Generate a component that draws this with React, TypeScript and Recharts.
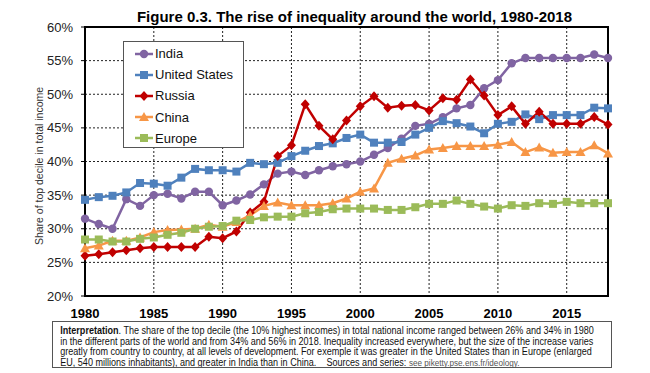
import { CartesianGrid, Legend, Line, LineChart, ReferenceArea, XAxis, YAxis } from "recharts";

const years = [
	1980, 1981, 1982, 1983, 1984, 1985, 1986, 1987, 1988, 1989,
	1990, 1991, 1992, 1993, 1994, 1995, 1996, 1997, 1998, 1999,
	2000, 2001, 2002, 2003, 2004, 2005, 2006, 2007, 2008, 2009,
	2010, 2011, 2012, 2013, 2014, 2015, 2016, 2017, 2018,
];

const india = [
	31.5, 30.7, 30.0, 34.4, 33.4, 35.0, 35.2, 34.5, 35.5, 35.5,
	33.5, 34.2, 35.1, 36.6, 38.2, 38.5, 38.0, 38.7, 39.3, 39.6,
	40.0, 41.0, 42.0, 43.4, 45.3, 45.6, 46.6, 47.9, 48.4, 50.9,
	52.1, 54.6, 55.4, 55.4, 55.4, 55.4, 55.4, 55.9, 55.4,
];

const unitedStates = [
	34.3, 34.7, 34.9, 35.4, 36.8, 36.7, 36.4, 37.6, 38.9, 38.7,
	38.7, 38.5, 39.8, 39.6, 39.8, 40.8, 41.6, 42.3, 42.7, 43.5,
	44.0, 42.8, 42.8, 42.9, 44.0, 45.0, 46.0, 45.7, 45.2, 44.2,
	45.6, 45.9, 47.0, 46.3, 46.9, 46.9, 46.9, 48.0, 47.9,
];

const russia = [
	26.0, 26.2, 26.5, 26.8, 27.1, 27.3, 27.3, 27.3, 27.3, 28.8,
	28.6, 29.6, 32.4, 34.0, 40.8, 42.4, 48.5, 45.3, 43.3, 46.1,
	48.2, 49.7, 48.0, 48.3, 48.4, 47.6, 49.4, 49.2, 52.2, 49.8,
	46.9, 48.2, 45.6, 47.4, 45.6, 45.6, 45.6, 46.6, 45.5,
];

const china = [
	27.1, 27.5, 28.2, 28.2, 28.7, 29.5, 29.8, 29.9, 30.0, 30.6,
	30.3, 31.0, 32.0, 33.4, 33.9, 33.5, 33.5, 33.5, 33.8, 34.5,
	35.5, 36.0, 39.8, 40.4, 40.9, 41.8, 42.0, 42.3, 42.3, 42.3,
	42.5, 42.9, 41.4, 42.1, 41.3, 41.4, 41.4, 42.4, 41.2,
];

const europe = [
	28.4, 28.4, 28.1, 28.1, 28.5, 28.7, 29.1, 29.4, 30.0, 30.3,
	30.4, 31.2, 31.3, 31.7, 31.8, 31.8, 32.3, 32.5, 32.9, 33.0,
	33.0, 33.0, 32.8, 32.8, 33.2, 33.7, 33.7, 34.2, 33.7, 33.3,
	33.0, 33.5, 33.4, 33.8, 33.7, 34.0, 33.8, 33.8, 33.8,
];

const xTicks = [1980, 1985, 1990, 1995, 2000, 2005, 2010, 2015];
const yTicks = [20, 25, 30, 35, 40, 45, 50, 55, 60];

const data = years.map((year, i) => ({
	year,
	india: india[i],
	us: unitedStates[i],
	russia: russia[i],
	china: china[i],
	europe: europe[i],
}));

type Shape = "circle" | "square" | "diamond" | "triangle";

const series: { key: string; name: string; color: string; shape: Shape }[] = [
	{ key: "india", name: "India", color: "#8064A2", shape: "circle" },
	{ key: "us", name: "United States", color: "#4F81BD", shape: "square" },
	{ key: "russia", name: "Russia", color: "#C00000", shape: "diamond" },
	{ key: "china", name: "China", color: "#F79646", shape: "triangle" },
	{ key: "europe", name: "Europe", color: "#9BBB59", shape: "square" },
];

const sans = '"Liberation Sans", Arial, sans-serif';

function Marker({ cx, cy, shape, color }: { cx: number; cy: number; shape: Shape; color: string }) {
	if (shape === "circle") return <circle cx={cx} cy={cy} r={4.2} fill={color} />;
	if (shape === "square") return <rect x={cx - 4} y={cy - 4} width={8} height={8} fill={color} />;
	if (shape === "diamond")
		return <polygon points={`${cx},${cy - 5} ${cx + 4.5},${cy} ${cx},${cy + 5} ${cx - 4.5},${cy}`} fill={color} />;
	return <polygon points={`${cx},${cy - 5} ${cx + 5},${cy + 4} ${cx - 5},${cy + 4}`} fill={color} />;
}

function makeDot(shape: Shape, color: string) {
	return (props: any) => {
		const { cx, cy, index } = props;
		if (cx == null || cy == null) return <g key={index} />;
		return (
			<g key={index}>
				<Marker cx={cx} cy={cy} shape={shape} color={color} />
			</g>
		);
	};
}

function LegendBox() {
	return (
		<div
			style={{
				border: "1px solid #555",
				background: "#fff",
				width: 121,
				height: 107,
				boxSizing: "border-box",
				padding: "1px 0 0 10px",
				fontFamily: sans,
				fontSize: 13,
				color: "#111",
				textAlign: "left",
			}}
		>
			{series.map((s) => (
				<div key={s.key} style={{ display: "flex", alignItems: "center", height: 21.2 }}>
					<svg width={20} height={12} style={{ marginRight: 1 }}>
						<line x1={1} y1={6} x2={19} y2={6} stroke={s.color} strokeWidth={2.5} />
						<Marker cx={10} cy={6} shape={s.shape} color={s.color} />
					</svg>
					<span>{s.name}</span>
				</div>
			))}
		</div>
	);
}

export default function App() {
	return (
		<div style={{ position: "fixed", left: 0, top: 0, width: 650, height: 373, background: "#fff", overflow: "hidden" }}>
			<div
				style={{
					position: "absolute",
					left: 0,
					width: 709,
					top: 8,
					textAlign: "center",
					fontFamily: sans,
					fontWeight: "bold",
					fontSize: 15,
					lineHeight: "18px",
					color: "#000",
				}}
			>
				Figure 0.3. The rise of inequality around the world, 1980-2018
			</div>
			<div
				style={{
					position: "absolute",
					left: 39,
					top: 166,
					transform: "translate(-50%, -50%) rotate(-90deg)",
					whiteSpace: "nowrap",
					fontFamily: sans,
					fontSize: 10.5,
					color: "#333",
				}}
			>
				Share of top decile in total income
			</div>
			<LineChart width={650} height={320} data={data} margin={{ top: 27, right: 42, left: 0, bottom: 0 }}>
				<CartesianGrid stroke="#222" strokeDasharray="2 2" strokeWidth={1} />
				<XAxis
					dataKey="year"
					type="number"
					domain={[1980, 2018]}
					ticks={xTicks}
					height={24}
					tickSize={4}
					tickMargin={9}
					axisLine={{ stroke: "#000", strokeWidth: 2 }}
					tickLine={false}
					tick={{ fill: "#000", fontSize: 13, fontWeight: "bold", fontFamily: sans }}
				/>
				<YAxis
					type="number"
					domain={[20, 60]}
					ticks={yTicks}
					width={85}
					tickSize={4}
					tickMargin={8}
					interval={0}
					tickFormatter={(v: number) => `${v}%`}
					axisLine={{ stroke: "#000", strokeWidth: 2 }}
					tickLine={{ stroke: "#000" }}
					tick={{ fill: "#222", fontSize: 13, fontFamily: sans }}
				/>
				<ReferenceArea x1={1980} x2={2018} y1={20} y2={60} fill="none" stroke="#000" strokeWidth={2} />
				<Legend
					layout="horizontal"
					verticalAlign="middle"
					align="center"
					content={() => <LegendBox />}
					wrapperStyle={{ left: 123, top: 41, width: 121, height: 107 }}
				/>
				{series.map((s) => (
					<Line
						key={s.key}
						dataKey={s.key}
						name={s.name}
						stroke={s.color}
						strokeWidth={2.5}
						dot={makeDot(s.shape, s.color)}
						activeDot={false}
						isAnimationActive={false}
					/>
				))}
			</LineChart>
			<div
				style={{
					position: "absolute",
					left: 52,
					top: 321,
					width: 560,
					height: 47,
					boxSizing: "border-box",
					border: "1.5px solid #555",
					overflow: "hidden",
				}}
			>
				<div
					style={{
						padding: "4px 0 0 8px",
						width: 610,
						transform: "scaleX(0.905)",
						transformOrigin: "0 0",
						fontFamily: sans,
						fontSize: 10,
						lineHeight: "10.5px",
						color: "#111",
						whiteSpace: "pre",
					}}
				>
					<b>Interpretation</b>. The share of the top decile (the 10% highest incomes) in total national income ranged between 26% and 34% in 1980{"\n"}
					in the different parts of the world and from 34% and 56% in 2018. Inequality increased everywhere, but the size of the increase varies{"\n"}
					greatly from country to country, at all levels of development. For exemple it was greater in the United States than in Europe (enlarged{"\n"}
					EU, 540 millions inhabitants), and greater in India than in China.{"    "}Sources and series:{" "}
					<span style={{ color: "#555", fontSize: 9 }}>see piketty.pse.ens.fr/ideology.</span>
				</div>
			</div>
		</div>
	);
}
